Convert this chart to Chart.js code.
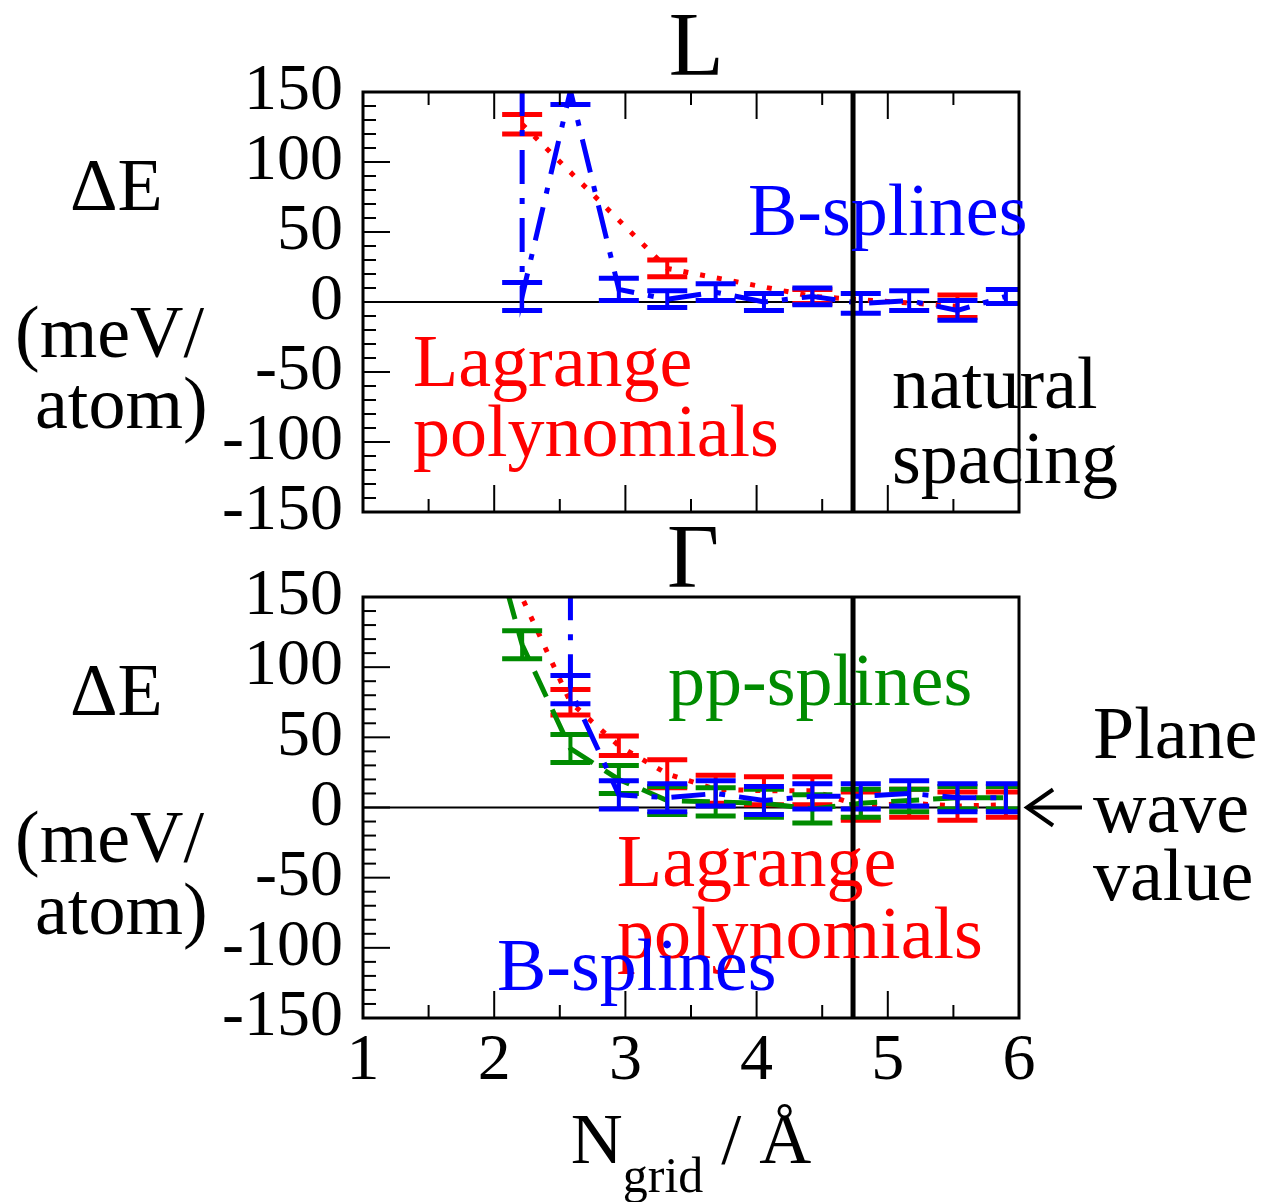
<!DOCTYPE html>
<html>
<head>
<meta charset="utf-8">
<title>Convergence with grid spacing</title>
<script src="https://cdn.jsdelivr.net/npm/chart.js@4.4.1/dist/chart.umd.min.js"></script>
<style>
    html, body { margin: 0; padding: 0; background: #ffffff; }
    #figure { position: relative; width: 1261px; height: 1202px; overflow: hidden; }
    #figure canvas { position: absolute; left: 0; }
    #panelL { top: 0; }
    #panelG { top: 520px; }
</style>
</head>
<body>
<div id="figure">
    <canvas id="panelL" width="1261" height="590"></canvas>
    <canvas id="panelG" width="1261" height="682"></canvas>
</div>
<script>
const SERIF = "'Liberation Serif', 'Times New Roman', serif";
const RED = '#ff0000';
const BLUE = '#0000ff';
const GREEN = '#008b00';

// grid spacing that matches the plane wave cutoff
const naturalSpacing = 4.735;

// L point: Lagrange polynomials
const lagrangeL_x = [2.213, 3.319, 4.425, 5.531];
const lagrangeL_y = [127, 24, 4, -3];
const lagrangeL_err = [7, 6, 5, 8];

// L point: B-splines (first entry runs off the top of the axis)
const bsplineL_x = [2.213, 2.213, 2.581, 2.950, 3.319, 3.688, 4.056, 4.425, 4.794, 5.163, 5.531, 5.900];
const bsplineL_y = [400, 4, 151, 9, 2, 7, 0, 4, -1, 1, -6, 4];
const bsplineL_err = [null, 10, 10, 8, 6, 6, 6, 6, 7, 7, 7, 5];

// Gamma point: Lagrange polynomials
const lagrangeG_x = [1.844, 2.581, 2.950, 3.319, 3.688, 4.056, 4.425, 4.794, 5.163, 5.531, 5.900];
const lagrangeG_y = [224, 75, 44, 24, 13, 12, 12, 1, 3, 1, 2];
const lagrangeG_err = [null, 9, 7, 10, 10, 10, 10, 10, 10, 10, 9];

// Gamma point: pp-splines
const ppsplineG_x = [1.844, 2.213, 2.581, 2.950, 3.319, 3.688, 4.056, 4.425, 4.794, 5.163, 5.531, 5.900];
const ppsplineG_y = [240, 116, 42, 20, 5, 4, 3, -1, 3, 5, 7, 7];
const ppsplineG_err = [null, 10, 10, 10, 10, 10, 10, 10, 10, 8, 8, 8];

// Gamma point: B-splines
const bsplineG_x = [2.581, 2.581, 2.950, 3.319, 3.688, 4.056, 4.425, 4.794, 5.163, 5.531, 5.900];
const bsplineG_y = [400, 84, 9, 7, 10, 5, 8, 8, 10, 7, 7];
const bsplineG_err = [null, 10, 10, 10, 9, 10, 9, 9, 9, 10, 10];

const yTickStep = 50;
const xTickStep = 1;

const points = (xs, ys) => xs.map((x, i) => ({ x, y: ys[i] }));

const lineSet = (label, xs, ys, errs, color, dash, order) => ({
    label,
    data: points(xs, ys),
    errors: errs,
    borderColor: color,
    borderWidth: 5,
    borderDash: dash,
    borderCapStyle: 'butt',
    pointRadius: 0,
    tension: 0,
    fill: false,
    clip: 0,
    order,
});

const DOTTED = [5, 12];
const DASH_DOT = [34, 14, 6, 14];
const DASHED = [28, 14];

// error bars are drawn right after their own line so later series cover them
const errorBars = {
    id: 'errorBars',
    afterDatasetDraw(chart, args) {
        const ds = chart.data.datasets[args.index];
        if (!ds.errors) {
            return;
        }
        const { ctx, chartArea: a, scales: { x, y } } = chart;
        ctx.save();
        ctx.beginPath();
        ctx.rect(a.left, a.top, a.right - a.left, a.bottom - a.top);
        ctx.clip();
        ctx.strokeStyle = ds.borderColor;
        ctx.lineCap = 'butt';
        ds.data.forEach((p, i) => {
            const e = ds.errors[i];
            if (e == null) {
                return;
            }
            const px = x.getPixelForValue(p.x);
            const hi = y.getPixelForValue(p.y + e);
            const lo = y.getPixelForValue(p.y - e);
            ctx.lineWidth = 4;
            ctx.beginPath();
            ctx.moveTo(px, hi);
            ctx.lineTo(px, lo);
            ctx.stroke();
            ctx.lineWidth = 5;
            ctx.beginPath();
            ctx.moveTo(px - 20, hi);
            ctx.lineTo(px + 20, hi);
            ctx.moveTo(px - 20, lo);
            ctx.lineTo(px + 20, lo);
            ctx.stroke();
        });
        ctx.restore();
    },
};

const segment = (ctx, x1, y1, x2, y2) => {
    ctx.beginPath();
    ctx.moveTo(x1, y1);
    ctx.lineTo(x2, y2);
    ctx.stroke();
};

// frame, inward ticks, reference lines and text labels of one panel
const panelDecor = (setup) => ({
    id: 'panelDecor',
    beforeDatasetsDraw(chart) {
        const { ctx, chartArea: a, scales: { y } } = chart;
        ctx.save();
        ctx.strokeStyle = '#000';
        ctx.lineWidth = 2;
        const y0 = y.getPixelForValue(0);
        segment(ctx, a.left, y0, a.right, y0);
        ctx.restore();
    },
    afterDraw(chart) {
        const { ctx, chartArea: a, scales: { x, y } } = chart;
        ctx.save();
        ctx.strokeStyle = '#000';
        ctx.lineCap = 'butt';

        ctx.lineWidth = 5;
        const xn = x.getPixelForValue(naturalSpacing);
        segment(ctx, xn, a.top, xn, a.bottom);

        ctx.lineWidth = 2;
        for (let v = y.min + 10; v < y.max; v += 10) {
            const py = y.getPixelForValue(v);
            segment(ctx, a.left, py, a.left + (v % 50 === 0 ? 27 : 13), py);
        }
        for (let v = x.min + 0.5; v < x.max; v += 0.5) {
            const px = x.getPixelForValue(v);
            const len = Number.isInteger(v) ? 27 : 13;
            segment(ctx, px, a.bottom, px, a.bottom - len);
            if (setup.topTicks) {
                segment(ctx, px, a.top, px, a.top + len);
            }
        }

        ctx.lineWidth = 3;
        ctx.strokeRect(a.left, a.top, a.right - a.left, a.bottom - a.top);

        ctx.textBaseline = 'alphabetic';
        setup.notes.forEach((n) => {
            ctx.font = `${n.size || 74}px ${SERIF}`;
            ctx.fillStyle = n.color || '#000';
            ctx.textAlign = n.align || 'left';
            ctx.fillText(n.text, x.getPixelForValue(n.x), y.getPixelForValue(n.y));
        });

        if (setup.arrow) {
            const [xa, xb, ya] = setup.arrow;
            const tip = x.getPixelForValue(xa);
            const end = x.getPixelForValue(xb);
            const py = y.getPixelForValue(ya);
            ctx.lineWidth = 4;
            segment(ctx, tip + 2, py, end, py);
            ctx.beginPath();
            ctx.moveTo(tip + 28, py - 18);
            ctx.lineTo(tip + 2, py);
            ctx.lineTo(tip + 28, py + 18);
            ctx.stroke();
        }

        if (setup.xTitle) {
            const base = a.bottom + 145;
            ctx.fillStyle = '#000';
            ctx.textAlign = 'left';
            ctx.font = `72px ${SERIF}`;
            const wN = ctx.measureText('N').width;
            const wTail = ctx.measureText(' / Å').width;
            ctx.font = `50px ${SERIF}`;
            const wSub = ctx.measureText('grid').width;
            let left = (a.left + a.right) / 2 - (wN + wSub + wTail) / 2;
            ctx.font = `72px ${SERIF}`;
            ctx.fillText('N', left, base);
            left += wN;
            ctx.font = `50px ${SERIF}`;
            ctx.fillText('grid', left, base + 29);
            left += wSub;
            ctx.font = `72px ${SERIF}`;
            ctx.fillText(' / Å', left, base);
        }
        ctx.restore();
    },
});

const yScale = {
    type: 'linear',
    min: -150,
    max: 150,
    ticks: {
        stepSize: yTickStep,
        autoSkip: false,
        color: '#000',
        padding: 20,
        font: { family: SERIF, size: 66 },
    },
    grid: { display: false, drawTicks: false },
    border: { display: false },
    afterFit: (scale) => { scale.width = 363; },
};

const xScale = (showLabels, height) => ({
    type: 'linear',
    min: 1,
    max: 6,
    ticks: {
        display: showLabels,
        stepSize: xTickStep,
        color: '#000',
        padding: 4,
        maxRotation: 0,
        autoSkip: false,
        font: { family: SERIF, size: 66 },
    },
    grid: { display: false, drawTicks: false },
    border: { display: false },
    afterFit: (scale) => { scale.height = height; },
});

const baseOptions = (padTop, showLabels, xHeight) => ({
    responsive: false,
    animation: false,
    events: [],
    layout: { padding: { top: padTop, right: 242, left: 0, bottom: 0 } },
    plugins: { legend: { display: false }, tooltip: { enabled: false } },
    scales: { x: xScale(showLabels, xHeight), y: yScale },
});

const unitNotes = [
    { text: 'ΔE', x: -1.233, y: 66 },
    { text: '(meV/', x: -1.652, y: -39 },
    { text: 'atom)', x: -1.5, y: -90 },
];

new Chart(document.getElementById('panelL'), {
    type: 'line',
    data: {
        datasets: [
            lineSet('Lagrange polynomials', lagrangeL_x, lagrangeL_y, lagrangeL_err, RED, DOTTED, 2),
            lineSet('B-splines', bsplineL_x, bsplineL_y, bsplineL_err, BLUE, DASH_DOT, 0),
        ],
    },
    options: baseOptions(92, false, 78),
    plugins: [errorBars, panelDecor({
        topTicks: true,
        notes: [
            { text: 'L', x: 3.54, y: 162, size: 90, align: 'center' },
            { text: 'B-splines', x: 3.934, y: 48, color: BLUE },
            { text: 'Lagrange', x: 1.381, y: -60, color: RED },
            { text: 'polynomials', x: 1.381, y: -110, color: RED },
            { text: 'natural', x: 5.032, y: -76 },
            { text: 'spacing', x: 5.032, y: -129 },
            ...unitNotes,
        ],
    })],
});

new Chart(document.getElementById('panelG'), {
    type: 'line',
    data: {
        datasets: [
            lineSet('Lagrange polynomials', lagrangeG_x, lagrangeG_y, lagrangeG_err, RED, DOTTED, 2),
            lineSet('pp-splines', ppsplineG_x, ppsplineG_y, ppsplineG_err, GREEN, DASHED, 1),
            lineSet('B-splines', bsplineG_x, bsplineG_y, bsplineG_err, BLUE, DASH_DOT, 0),
        ],
    },
    options: baseOptions(77, true, 184),
    plugins: [errorBars, panelDecor({
        topTicks: false,
        xTitle: true,
        arrow: [6.046, 6.48, 0],
        notes: [
            { text: 'Γ', x: 3.515, y: 157, size: 90, align: 'center' },
            { text: 'pp-splines', x: 3.325, y: 73, color: GREEN },
            { text: 'Plane', x: 6.564, y: 35.4 },
            { text: 'wave', x: 6.564, y: -17.5 },
            { text: 'value', x: 6.564, y: -66 },
            { text: 'Lagrange', x: 2.936, y: -56, color: RED },
            { text: 'polynomials', x: 2.936, y: -107, color: RED },
            { text: 'B-splines', x: 2.021, y: -130, color: BLUE },
            ...unitNotes,
        ],
    })],
});
</script>
</body>
</html>
